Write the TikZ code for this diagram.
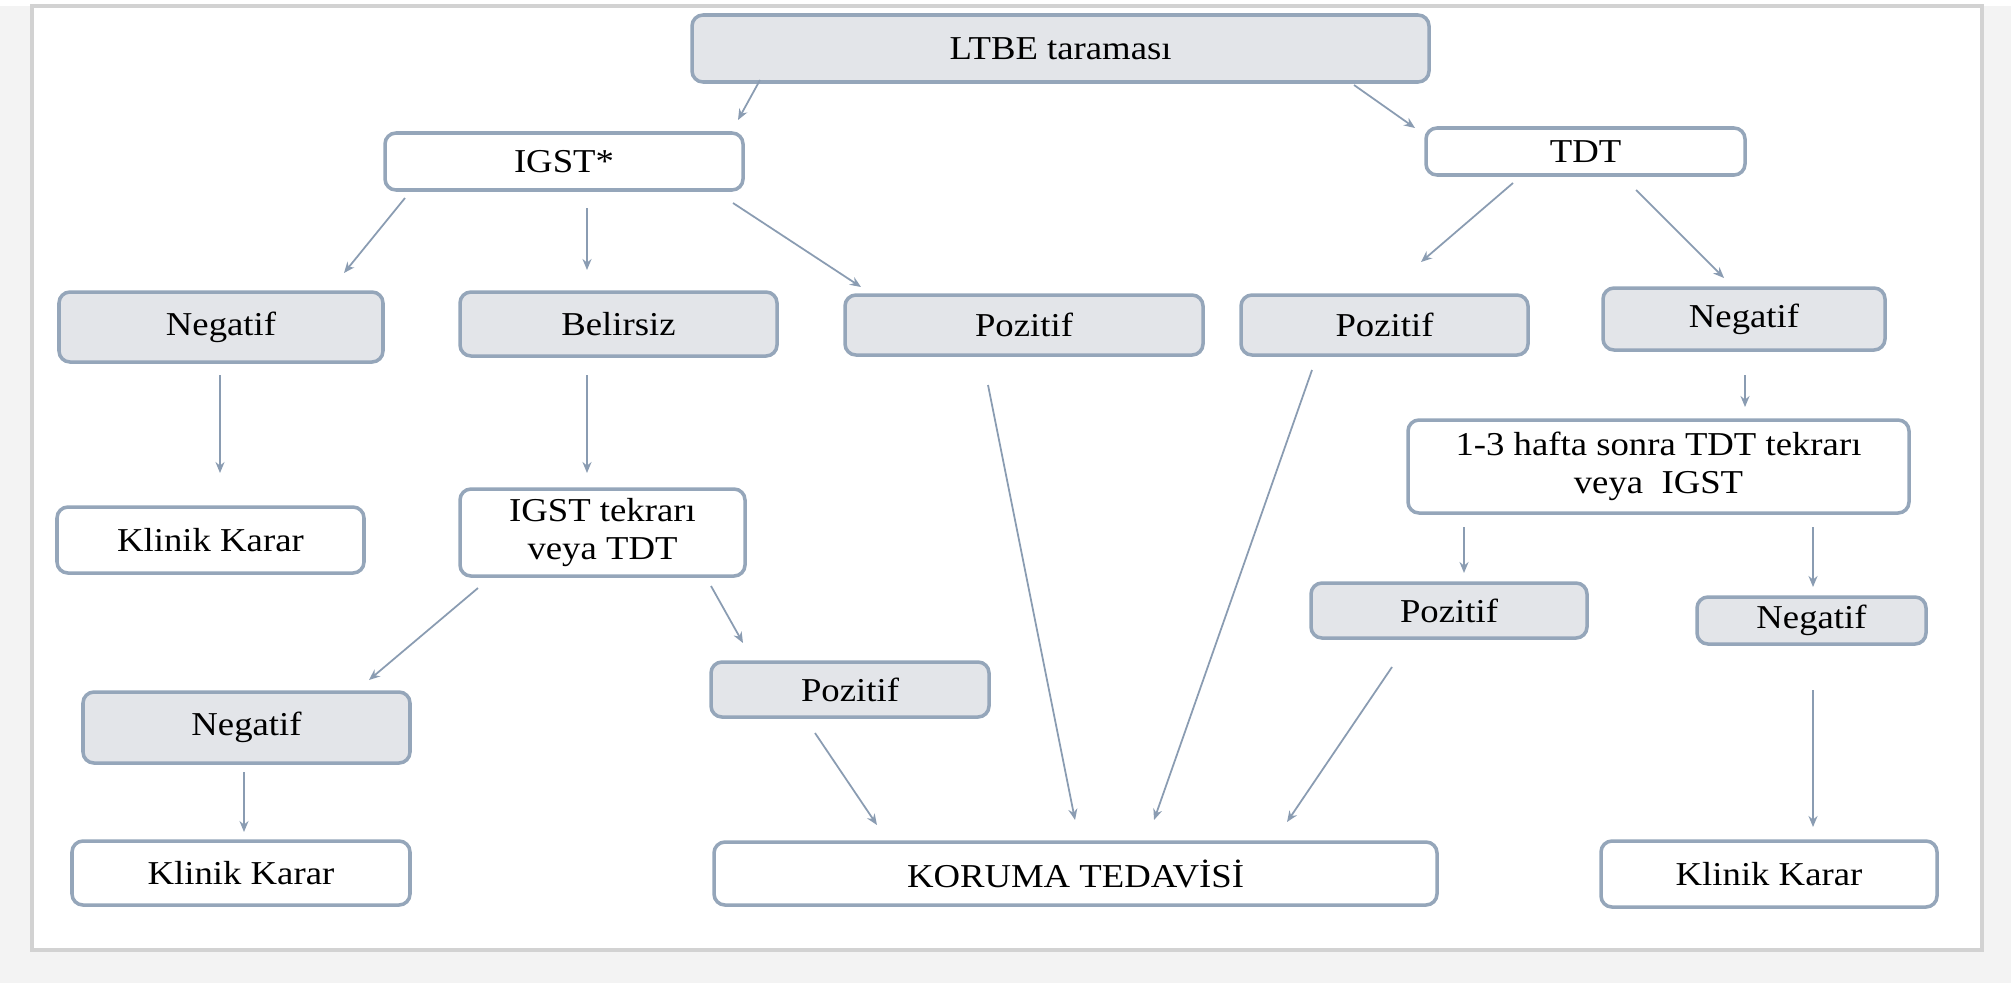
\documentclass[tikz,border=0pt]{standalone}
\usepackage{fontspec}
\setmainfont{Liberation Serif}[FakeStretch=1.1]
\usetikzlibrary{arrows.meta}
\definecolor{bordc}{HTML}{95A6BA}
\definecolor{grayfill}{HTML}{E3E5E9}
\definecolor{arrc}{HTML}{8A9CB2}
\definecolor{framec}{HTML}{D2D2D2}
\definecolor{bgc}{HTML}{F3F3F3}
\tikzset{
  basebox/.style={draw=bordc, line width=1pt, rounded corners=1.1mm, inner sep=0pt, align=center,
    font=\fontsize{9.5}{11}\selectfont},
  gbox/.style={basebox, fill=grayfill},
  wbox/.style={basebox, fill=white},
  arr/.style={draw=arrc, line width=0.5pt, -{Stealth[length=1.1mm,width=0.9mm]}}
}
\begin{document}
\begin{tikzpicture}[x=0.1mm,y=-0.1mm]
\fill[bgc] (0,0) rectangle (2011,983);
\useasboundingbox (0,0) rectangle (2011,983);
\fill[white] (0,0) rectangle (2011,6);
\draw[framec, line width=0.9pt, fill=white] (32,6) rectangle (1982,950);

% nodes
\node[gbox, minimum width=73.7mm, minimum height=6.7mm] (ltbe) at (1060.5,48.5) {LTBE taraması};
\node[wbox, minimum width=35.8mm, minimum height=5.7mm] (igst) at (564,161.5) {IGST*};
\node[wbox, minimum width=31.9mm, minimum height=4.7mm] (tdt) at (1585.5,151.5) {TDT};
\node[gbox, minimum width=32.4mm, minimum height=7.0mm] (neg1) at (221,327) {Negatif};
\node[gbox, minimum width=31.7mm, minimum height=6.4mm] (bel) at (618.5,324) {Belirsiz};
\node[gbox, minimum width=35.8mm, minimum height=6.0mm] (poz1) at (1024,325) {Pozitif};
\node[gbox, minimum width=28.7mm, minimum height=6.0mm] (poz2) at (1384.5,325) {Pozitif};
\node[gbox, minimum width=28.2mm, minimum height=6.2mm] (neg2) at (1744,319) {Negatif};
\node[wbox, minimum width=30.7mm, minimum height=6.6mm] (kk1) at (210.5,540) {Klinik Karar};
\node[wbox, minimum width=28.5mm, minimum height=8.7mm] (igsttek) at (602.5,532.5) {IGST tekrarı\\veya TDT};
\node[wbox, minimum width=50.1mm, minimum height=9.3mm] (hafta) at (1658.5,466.5) {1-3 hafta sonra TDT tekrarı\\veya\ \ IGST};
\node[gbox, minimum width=32.7mm, minimum height=7.1mm] (neg3) at (246.5,727.5) {Negatif};
\node[gbox, minimum width=27.8mm, minimum height=5.5mm] (poz3) at (850,689.5) {Pozitif};
\node[gbox, minimum width=27.6mm, minimum height=5.5mm] (poz4) at (1449,610.5) {Pozitif};
\node[gbox, minimum width=22.9mm, minimum height=4.7mm] (neg4) at (1811.5,620.5) {Negatif};
\node[wbox, minimum width=33.8mm, minimum height=6.4mm] (kk2) at (241,873) {Klinik Karar};
\node[wbox, minimum width=72.3mm, minimum height=6.3mm] (koruma) at (1075.5,873.5) {KORUMA TEDAVİSİ};
\node[wbox, minimum width=33.6mm, minimum height=6.6mm] (kk3) at (1769,874) {Klinik Karar};

% connectors
\draw[arr] ([shift={(-300.5,31.5)}]ltbe.center) -- ([shift={(174,-41.5)}]igst.center);
\draw[arr] ([shift={(293.5,36.5)}]ltbe.center) -- ([shift={(-170.5,-23.5)}]tdt.center);
\draw[arr] ([shift={(-159,36.5)}]igst.center) -- ([shift={(123,-54)}]neg1.center);
\draw[arr] ([shift={(23,46.5)}]igst.center) -- ([shift={(-31.5,-54)}]bel.center);
\draw[arr] ([shift={(169,41.5)}]igst.center) -- ([shift={(-163,-38)}]poz1.center);
\draw[arr] ([shift={(-72.5,31.5)}]tdt.center) -- ([shift={(36.5,-63)}]poz2.center);
\draw[arr] ([shift={(50.5,38.5)}]tdt.center) -- ([shift={(-20,-41)}]neg2.center);
\draw[arr] ([shift={(-1,48)}]neg1.center) -- ([shift={(9.5,-67)}]kk1.center);
\draw[arr] ([shift={(-31.5,51)}]bel.center) -- ([shift={(-15.5,-59.5)}]igsttek.center);
\draw[arr] ([shift={(1,56)}]neg2.center) -- ([shift={(86.5,-59.5)}]hafta.center);
\draw[arr] ([shift={(-36,60)}]poz1.center) -- ([shift={(-0.5,-53.5)}]koruma.center);
\draw[arr] ([shift={(-72.5,45)}]poz2.center) -- ([shift={(78.5,-53.5)}]koruma.center);
\draw[arr] ([shift={(-124.5,55.5)}]igsttek.center) -- ([shift={(122.5,-47.5)}]neg3.center);
\draw[arr] ([shift={(108.5,53.5)}]igsttek.center) -- ([shift={(-107,-46.5)}]poz3.center);
\draw[arr] ([shift={(-2.5,44.5)}]neg3.center) -- ([shift={(3,-41)}]kk2.center);
\draw[arr] ([shift={(-35,43.5)}]poz3.center) -- ([shift={(-198.5,-48.5)}]koruma.center);
\draw[arr] ([shift={(-194.5,60.5)}]hafta.center) -- ([shift={(15,-37.5)}]poz4.center);
\draw[arr] ([shift={(154.5,60.5)}]hafta.center) -- ([shift={(1.5,-33.5)}]neg4.center);
\draw[arr] ([shift={(-57,56.5)}]poz4.center) -- ([shift={(211.5,-51.5)}]koruma.center);
\draw[arr] ([shift={(1.5,69.5)}]neg4.center) -- ([shift={(44,-47)}]kk3.center);
\end{tikzpicture}
\end{document}
